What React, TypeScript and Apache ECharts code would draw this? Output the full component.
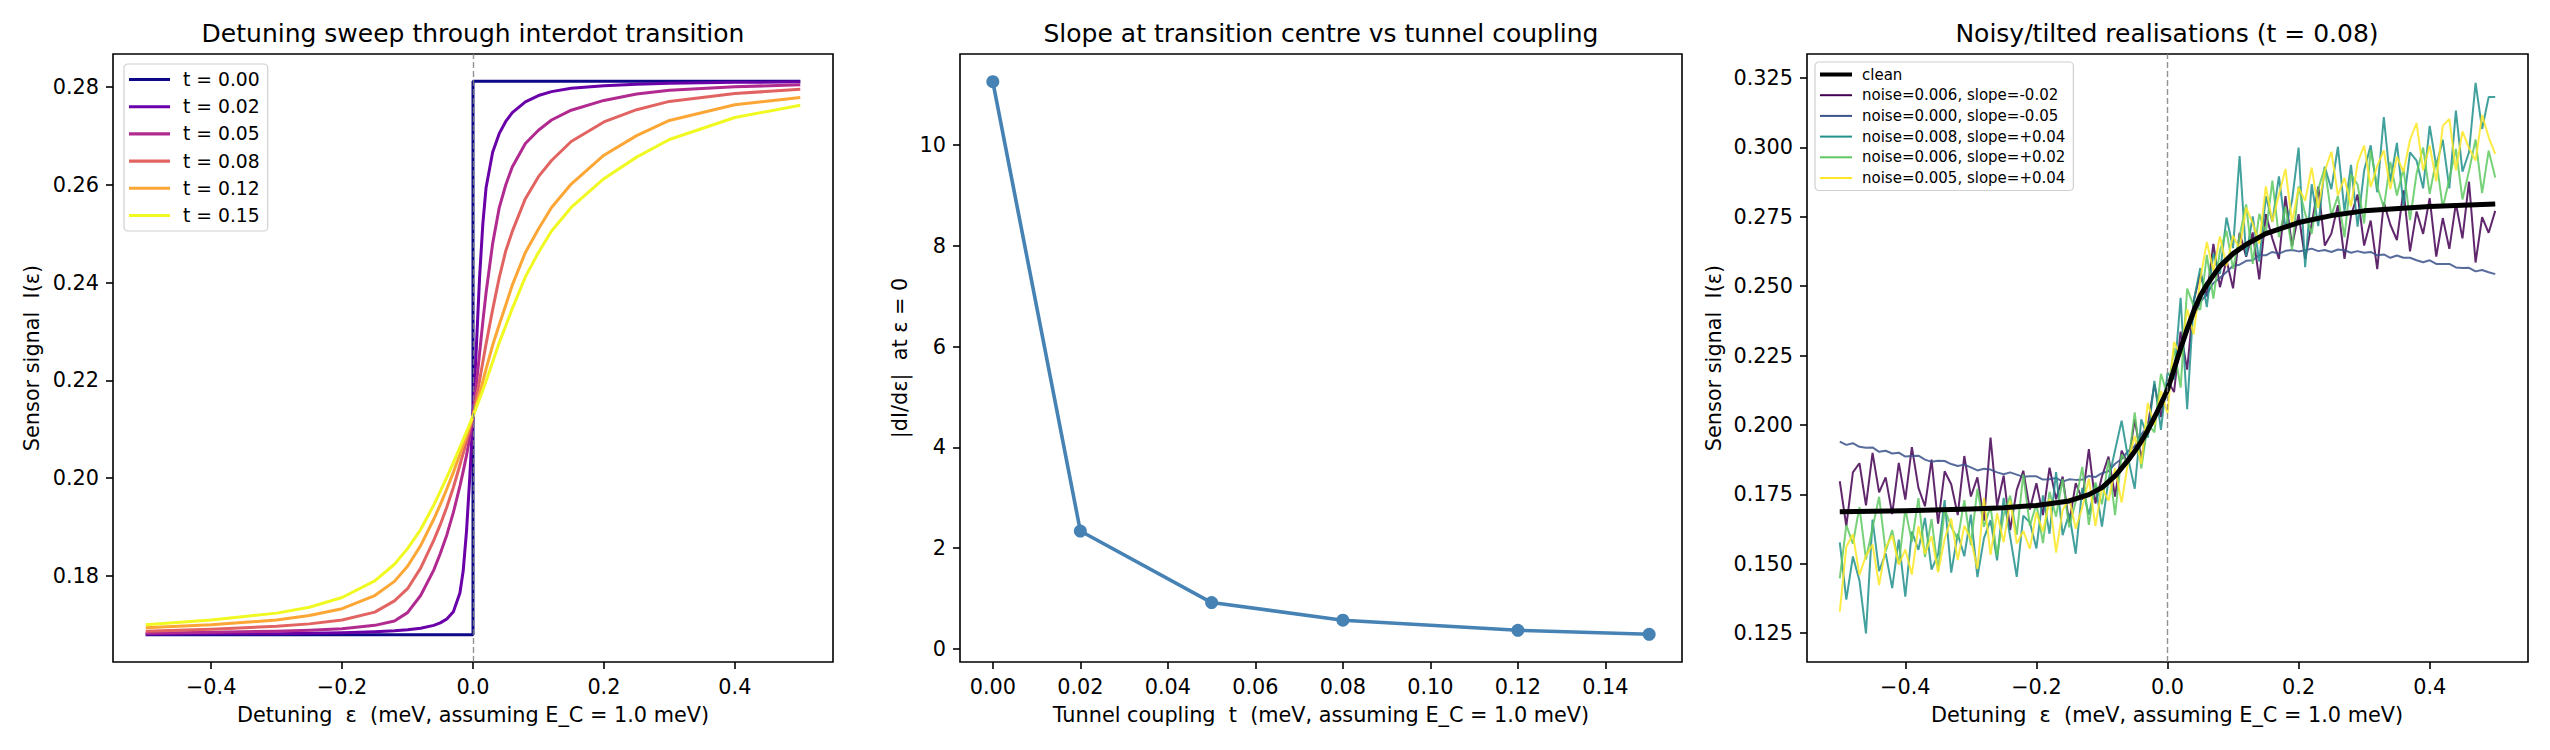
import React, { useEffect, useRef } from "react";
import * as echarts from "echarts";

const FONT = "'DejaVu Sans', sans-serif";

// ---- left panel: detuning sweep ----
const leftEps = [
  -0.5, -0.4, -0.3, -0.25, -0.2, -0.15, -0.12, -0.1, -0.08, -0.06, -0.05, -0.04, -0.03, -0.02, -0.015, -0.01, -0.005,
  0, 0.005, 0.01, 0.015, 0.02, 0.03, 0.04, 0.05, 0.06, 0.08, 0.1, 0.12, 0.15, 0.2, 0.25, 0.3, 0.4, 0.5,
];
const stepEps = [-0.5, 0, 0, 0.5];
const t000 = [0.168, 0.168, 0.2812, 0.2812];
const t002 = [
  0.1681, 0.1682, 0.1682, 0.1683, 0.1684, 0.1686, 0.1688, 0.169, 0.1693, 0.1699, 0.1704, 0.1712, 0.1727, 0.1765, 0.181, 0.189, 0.2,
  0.2127, 0.2265, 0.241, 0.252, 0.2595, 0.2667, 0.2705, 0.273, 0.2748, 0.277, 0.2783, 0.2791, 0.2798, 0.2803, 0.2806, 0.2808, 0.281, 0.2811,
];
const t005 = [
  0.1683, 0.1685, 0.1687, 0.1689, 0.1692, 0.1699, 0.1708, 0.1725, 0.176, 0.1812, 0.1846, 0.1884, 0.193, 0.1984, 0.2014, 0.2046, 0.2084,
  0.2127, 0.219, 0.2255, 0.232, 0.238, 0.248, 0.2553, 0.26, 0.2637, 0.2685, 0.2712, 0.2733, 0.2753, 0.2773, 0.2786, 0.2794, 0.2801, 0.2805,
];
const t008 = [
  0.1687, 0.1691, 0.1697, 0.1702, 0.171, 0.1726, 0.1749, 0.1774, 0.1816, 0.1873, 0.1905, 0.1941, 0.1981, 0.2027, 0.2051, 0.2076, 0.2101,
  0.2127, 0.2163, 0.22, 0.2238, 0.2275, 0.2345, 0.241, 0.2465, 0.2505, 0.2572, 0.2617, 0.265, 0.2689, 0.2729, 0.2754, 0.2771, 0.2787, 0.2796,
];
const t012 = [
  0.1694, 0.17, 0.171, 0.1719, 0.1733, 0.176, 0.1789, 0.182, 0.1862, 0.1916, 0.1946, 0.1978, 0.2012, 0.2049, 0.2068, 0.2087, 0.2107,
  0.2127, 0.215, 0.2173, 0.2198, 0.2224, 0.2272, 0.2314, 0.2354, 0.2395, 0.2462, 0.251, 0.2554, 0.2602, 0.2661, 0.2701, 0.2732, 0.2764, 0.2779,
];
const t015 = [
  0.17, 0.171, 0.1724, 0.1736, 0.1756, 0.179, 0.1824, 0.1856, 0.1895, 0.1945, 0.1973, 0.2002, 0.2032, 0.2063, 0.2079, 0.2095, 0.2111,
  0.2127, 0.2145, 0.2162, 0.218, 0.2199, 0.2238, 0.2277, 0.2312, 0.2347, 0.2412, 0.2462, 0.2506, 0.2554, 0.2613, 0.2657, 0.2693, 0.2738, 0.2763,
];
const sweepNames = ["t = 0.00", "t = 0.02", "t = 0.05", "t = 0.08", "t = 0.12", "t = 0.15"];
const plasma = ["#0d0887", "#6a00a8", "#b12a90", "#e16462", "#fca636", "#f0f921"];

// ---- middle panel: slope at centre ----
const couplings = [0, 0.02, 0.05, 0.08, 0.12, 0.15];
const slopes = [11.26, 2.34, 0.92, 0.57, 0.37, 0.29];

// ---- right panel: noisy / tilted realisations ----
const noisyEps = Array.from({ length: 101 }, (_, i) => +(-0.5 + i * 0.01).toFixed(2));
const noisyA = [
  0.1797, 0.1635, 0.1829, 0.1862, 0.171, 0.1899, 0.1757, 0.1811, 0.1679, 0.1863,
  0.1731, 0.192, 0.1773, 0.1707, 0.1875, 0.1644, 0.1833, 0.1786, 0.1675, 0.1888,
  0.1742, 0.1811, 0.1655, 0.1954, 0.1708, 0.1817, 0.1621, 0.1766, 0.1835, 0.1695,
  0.179, 0.1675, 0.1846, 0.1732, 0.1814, 0.1646, 0.179, 0.1731, 0.1913, 0.1717,
  0.1814, 0.1886, 0.1742, 0.1907, 0.186, 0.202, 0.1879, 0.1997, 0.2146, 0.2028,
  0.2162, 0.2118, 0.2336, 0.2199, 0.2447, 0.2545, 0.2463, 0.2652, 0.2496, 0.2593,
  0.2492, 0.2692, 0.2606, 0.2693, 0.2524, 0.2759, 0.2671, 0.2598, 0.2824, 0.2644,
  0.2759, 0.2597, 0.2725, 0.2858, 0.2646, 0.2689, 0.2791, 0.2598, 0.2754, 0.283,
  0.2646, 0.2736, 0.2561, 0.2801, 0.2721, 0.2666, 0.2845, 0.2625, 0.2769, 0.2688,
  0.2817, 0.2606, 0.2745, 0.2634, 0.2798, 0.2672, 0.2876, 0.2585, 0.2748, 0.2692,
  0.2771,
];
const noisyB = [
  0.194, 0.1928, 0.1934, 0.1921, 0.1918, 0.1919, 0.1903, 0.1907, 0.1897, 0.19,
  0.1886, 0.1888, 0.1889, 0.1875, 0.1867, 0.1871, 0.187, 0.1859, 0.1852, 0.1857,
  0.1847, 0.1836, 0.1842, 0.1839, 0.1829, 0.1822, 0.1829, 0.1821, 0.1813, 0.1815,
  0.1815, 0.1803, 0.1804, 0.1809, 0.1796, 0.1804, 0.1802, 0.1803, 0.1816, 0.1812,
  0.1826, 0.1833, 0.186, 0.1877, 0.1906, 0.1924, 0.1966, 0.1996, 0.2033, 0.2087,
  0.2125, 0.2198, 0.226, 0.2337, 0.2389, 0.2442, 0.2471, 0.2511, 0.2529, 0.2551,
  0.2573, 0.2577, 0.2591, 0.2593, 0.2611, 0.2611, 0.2623, 0.2617, 0.2627, 0.263,
  0.2625, 0.2629, 0.2635, 0.2626, 0.263, 0.2623, 0.2632, 0.2629, 0.262, 0.2626,
  0.262, 0.2623, 0.2611, 0.2614, 0.2602, 0.261, 0.2602, 0.2602, 0.2593, 0.2586,
  0.2593, 0.258, 0.258, 0.258, 0.2567, 0.2565, 0.2566, 0.2553, 0.2558, 0.255,
  0.2543,
];
const noisyC = [
  0.1577, 0.1371, 0.1526, 0.144, 0.1249, 0.1659, 0.1473, 0.1538, 0.1412, 0.1587,
  0.1381, 0.1616, 0.155, 0.1665, 0.1479, 0.1534, 0.1729, 0.1468, 0.1608, 0.1527,
  0.1677, 0.1452, 0.1592, 0.1657, 0.1512, 0.1737, 0.1597, 0.1453, 0.1673, 0.1649,
  0.1555, 0.1746, 0.1608, 0.183, 0.1603, 0.1681, 0.1536, 0.1773, 0.1676, 0.1786,
  0.1634, 0.1802, 0.1909, 0.2015, 0.1879, 0.177, 0.202, 0.1954, 0.2159, 0.1982,
  0.2187, 0.2164, 0.2458, 0.2057, 0.2446, 0.2565, 0.2424, 0.2619, 0.2544, 0.2747,
  0.2637, 0.2968, 0.2608, 0.2751, 0.2588, 0.2824, 0.2732, 0.2895, 0.2707, 0.2808,
  0.2999, 0.2568, 0.2867, 0.2716, 0.293, 0.2849, 0.3002, 0.277, 0.2937, 0.2714,
  0.2916, 0.3007, 0.2838, 0.3109, 0.2875, 0.3016, 0.2791, 0.2982, 0.2952, 0.2852,
  0.3077, 0.2932, 0.3027, 0.2852, 0.3132, 0.2912, 0.2982, 0.3232, 0.3066, 0.3181,
  0.3181,
];
const noisyD = [
  0.1447, 0.1639, 0.1572, 0.1704, 0.1516, 0.1629, 0.1741, 0.1544, 0.1621, 0.1499,
  0.1696, 0.1579, 0.1736, 0.1524, 0.1661, 0.1474, 0.1697, 0.1634, 0.1587, 0.1729,
  0.1567, 0.177, 0.1633, 0.1706, 0.1529, 0.1677, 0.1745, 0.1604, 0.1822, 0.1636,
  0.1715, 0.1574, 0.1759, 0.1669, 0.1805, 0.1631, 0.1724, 0.1849, 0.164, 0.1793,
  0.1714, 0.1875, 0.1675, 0.1894, 0.1856, 0.2045, 0.1843, 0.2005, 0.1973, 0.2184,
  0.2107, 0.2277, 0.2134, 0.2491, 0.2428, 0.2415, 0.2612, 0.2455, 0.2628, 0.2699,
  0.2562, 0.2681, 0.2794, 0.258, 0.276, 0.2689, 0.288, 0.2676, 0.2786, 0.263,
  0.2859, 0.2761, 0.2688, 0.285, 0.2927, 0.2754, 0.2825, 0.2676, 0.2901, 0.2866,
  0.2726, 0.299, 0.2859, 0.2783, 0.2947, 0.2826, 0.2924, 0.2738, 0.2906, 0.2999,
  0.2832, 0.2955, 0.2783, 0.2886, 0.2994, 0.2812, 0.2915, 0.3028, 0.2835, 0.2988,
  0.2891,
];
const noisyE = [
  0.1327, 0.1561, 0.1606, 0.146, 0.1529, 0.1569, 0.1423, 0.1558, 0.1602, 0.1497,
  0.1551, 0.1461, 0.1635, 0.1535, 0.1599, 0.1469, 0.1589, 0.1663, 0.1513, 0.1637,
  0.1587, 0.1482, 0.1737, 0.1532, 0.1682, 0.1577, 0.1727, 0.1573, 0.1618, 0.1554,
  0.1685, 0.1616, 0.1733, 0.154, 0.1693, 0.1736, 0.1626, 0.1703, 0.1806, 0.1636,
  0.1774, 0.1727, 0.1844, 0.172, 0.1869, 0.196, 0.186, 0.2079, 0.1999, 0.2122,
  0.2042, 0.2299, 0.2248, 0.2417, 0.2326, 0.2525, 0.2659, 0.2554, 0.2679, 0.2572,
  0.2682, 0.2633, 0.2783, 0.2726, 0.2653, 0.2859, 0.2732, 0.283, 0.2922, 0.2728,
  0.2854, 0.2808, 0.2927, 0.2781, 0.2915, 0.2984, 0.2827, 0.289, 0.2787, 0.2944,
  0.3006, 0.2857, 0.2933, 0.2989, 0.285, 0.2966, 0.2911, 0.3027, 0.3087, 0.2917,
  0.3007, 0.2877, 0.3077, 0.3102, 0.2917, 0.3057, 0.2997, 0.2952, 0.3116, 0.3036,
  0.2976,
];
const noisyNames = [
  "noise=0.006, slope=-0.02",
  "noise=0.000, slope=-0.05",
  "noise=0.008, slope=+0.04",
  "noise=0.006, slope=+0.02",
  "noise=0.005, slope=+0.04",
];
const viridis = ["#440154", "#3b528b", "#21918c", "#5ec962", "#fde725"];

const epsTicks = [-0.4, -0.2, 0, 0.2, 0.4];
const sweepTicks = [0.18, 0.2, 0.22, 0.24, 0.26, 0.28];
const couplingTicks = [0, 0.02, 0.04, 0.06, 0.08, 0.1, 0.12, 0.14];
const slopeTicks = [0, 2, 4, 6, 8, 10];
const noisyTicks = [0.125, 0.15, 0.175, 0.2, 0.225, 0.25, 0.275, 0.3, 0.325];

const pairs = (xs: number[], ys: number[]) => xs.map((x, i) => [x, ys[i]]);
const fmtSigned = (v: number, d: number) => (v < 0 ? "\u2212" : "") + Math.abs(v).toFixed(d);

const tick = (vals: number[]) => ({
  show: true,
  length: 7,
  customValues: vals,
  lineStyle: { color: "#000", width: 1.6 },
});
const label = (vals: number[], fmt: (v: number) => string) => ({
  customValues: vals,
  formatter: fmt,
  fontSize: 20.8,
  fontFamily: FONT,
  color: "#000",
  margin: 14,
});
const axisBase = { type: "value", axisLine: { show: false, onZero: false }, splitLine: { show: false } };

const zeroLine = {
  silent: true,
  symbol: ["none", "none"],
  label: { show: false },
  lineStyle: { type: [6, 3], color: "rgba(128,128,128,0.85)", width: 1.4 },
  data: [{ xAxis: 0 }],
};

const text = (t: string, x: number, y: number, size: number, rot = 0) => ({
  type: "text",
  x,
  y,
  rotation: rot,
  style: {
    text: t,
    fill: "#000",
    font: `${size}px ${FONT}`,
    align: "center",
    verticalAlign: "middle",
  },
});

export default function App() {
  const chartRef = useRef<HTMLDivElement>(null);

  useEffect(() => {
    document.body.style.margin = "0";
    if (!chartRef.current) return;
    const chart = echarts.init(chartRef.current, null, { renderer: "svg" });

    const sweepData = [t002, t005, t008, t012, t015];
    const leftSeries = [
      {
        name: sweepNames[0],
        type: "line",
        xAxisIndex: 0,
        yAxisIndex: 0,
        data: pairs(stepEps, t000),
        showSymbol: false,
        symbol: "none",
        color: plasma[0],
        lineStyle: { width: 3, color: plasma[0] },
        markLine: zeroLine,
      },
      ...sweepData.map((vals, k) => ({
        name: sweepNames[k + 1],
        type: "line",
        xAxisIndex: 0,
        yAxisIndex: 0,
        data: pairs(leftEps, vals),
        showSymbol: false,
        symbol: "none",
        color: plasma[k + 1],
        lineStyle: { width: 3, color: plasma[k + 1], join: "round" },
      })),
    ];

    const noisyData = [noisyA, noisyB, noisyC, noisyD, noisyE];
    const rightSeries = [
      {
        name: "clean",
        type: "line",
        xAxisIndex: 2,
        yAxisIndex: 2,
        data: pairs(leftEps, t008),
        showSymbol: false,
        symbol: "none",
        z: 4,
        color: "#000",
        lineStyle: { width: 5, color: "#000", join: "round" },
        markLine: zeroLine,
      },
      ...noisyData.map((vals, k) => ({
        name: noisyNames[k],
        type: "line",
        xAxisIndex: 2,
        yAxisIndex: 2,
        data: pairs(noisyEps, vals),
        showSymbol: false,
        symbol: "none",
        color: viridis[k],
        lineStyle: { width: 2, color: viridis[k], opacity: 0.85 },
      })),
    ];

    const option = {
      animation: false,
      backgroundColor: "#fff",
      textStyle: { fontFamily: FONT },
      grid: [
        { left: 113, top: 54, width: 720, height: 608 },
        { left: 960, top: 54, width: 722, height: 608 },
        { left: 1807, top: 54, width: 721, height: 608 },
      ].map((g) => ({ ...g, show: true, borderColor: "#000", borderWidth: 1.6, outerBoundsMode: "none" })),
      xAxis: [
        { ...axisBase, gridIndex: 0, min: -0.55, max: 0.55, axisTick: tick(epsTicks), axisLabel: label(epsTicks, (v: number) => fmtSigned(v, 1)) },
        { ...axisBase, gridIndex: 1, min: -0.0075, max: 0.1575, axisTick: tick(couplingTicks), axisLabel: label(couplingTicks, (v: number) => v.toFixed(2)) },
        { ...axisBase, gridIndex: 2, min: -0.55, max: 0.55, axisTick: tick(epsTicks), axisLabel: label(epsTicks, (v: number) => fmtSigned(v, 1)) },
      ],
      yAxis: [
        { ...axisBase, gridIndex: 0, min: 0.1624, max: 0.2868, axisTick: tick(sweepTicks), axisLabel: label(sweepTicks, (v: number) => v.toFixed(2)) },
        { ...axisBase, gridIndex: 1, min: -0.26, max: 11.81, axisTick: tick(slopeTicks), axisLabel: label(slopeTicks, (v: number) => v.toFixed(0)) },
        { ...axisBase, gridIndex: 2, min: 0.1146, max: 0.3336, axisTick: tick(noisyTicks), axisLabel: label(noisyTicks, (v: number) => v.toFixed(3)) },
      ],
      legend: [
        {
          left: 124,
          top: 64,
          orient: "vertical",
          data: sweepNames.map((n) => ({ name: n, icon: "path://M0,0H40V3H0Z" })),
          itemWidth: 41,
          itemHeight: 20,
          itemGap: 8.2,
          padding: [6, 8, 6, 5],
          backgroundColor: "rgba(255,255,255,0.85)",
          borderColor: "#d0d0d0",
          borderWidth: 1.2,
          borderRadius: 4,
          textStyle: { fontSize: 18.75, fontFamily: FONT, color: "#000", padding: [0, 0, 0, 8] },
        },
        {
          left: 1815,
          top: 62,
          orient: "vertical",
          data: [
            { name: "clean", icon: "path://M0,0H40V5H0Z" },
            ...noisyNames.map((n) => ({ name: n, icon: "path://M0,0H40V2.5H0Z" })),
          ],
          itemWidth: 32,
          itemHeight: 16,
          itemGap: 5.7,
          padding: [5, 8, 5, 5],
          backgroundColor: "rgba(255,255,255,0.85)",
          borderColor: "#d0d0d0",
          borderWidth: 1.2,
          borderRadius: 4,
          textStyle: { fontSize: 15, fontFamily: FONT, color: "#000", padding: [0, 0, 0, 5] },
        },
      ],
      graphic: [
        text("Detuning sweep through interdot transition", 473, 33, 25),
        text("Slope at transition centre vs tunnel coupling", 1321, 33, 25),
        text("Noisy/tilted realisations (t = 0.08)", 2167, 33, 25),
        text("Detuning  \u03b5  (meV, assuming E_C = 1.0 meV)", 473, 715, 20.8),
        text("Tunnel coupling  t  (meV, assuming E_C = 1.0 meV)", 1321, 715, 20.8),
        text("Detuning  \u03b5  (meV, assuming E_C = 1.0 meV)", 2167, 715, 20.8),
        text("Sensor signal  I(\u03b5)", 32, 358, 20.8, Math.PI / 2),
        text("|dI/d\u03b5|  at \u03b5 = 0", 900, 358, 20.8, Math.PI / 2),
        text("Sensor signal  I(\u03b5)", 1714, 358, 20.8, Math.PI / 2),
      ],
      series: [
        ...leftSeries,
        {
          name: "slope",
          type: "line",
          xAxisIndex: 1,
          yAxisIndex: 1,
          data: pairs(couplings, slopes),
          symbol: "circle",
          symbolSize: 13,
          color: "#4682b4",
          itemStyle: { color: "#4682b4" },
          lineStyle: { width: 3.6, color: "#4682b4" },
        },
        ...rightSeries,
      ],
    };

    chart.setOption(option as any);
    return () => {
      chart.dispose();
    };
  }, []);

  return <div ref={chartRef} style={{ width: "2550px", height: "750px" }} />;
}
